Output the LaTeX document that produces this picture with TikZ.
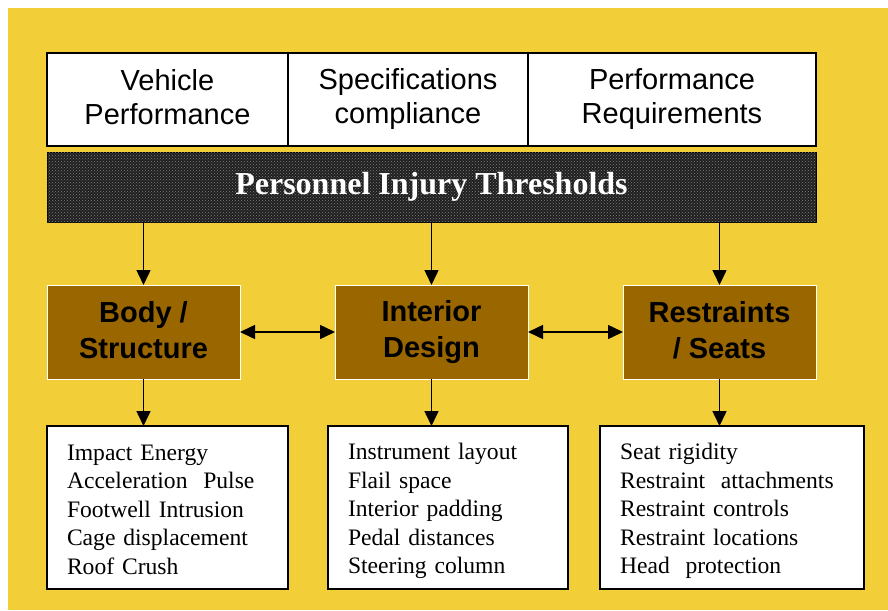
\documentclass[tikz,border=0pt]{standalone}
\usepackage{fontspec}
\setmainfont{Liberation Serif}
\setsansfont{Liberation Sans}
\usetikzlibrary{positioning}
\usetikzlibrary{arrows.meta}
\usetikzlibrary{patterns}
\definecolor{backyellow}{RGB}{242,206,56}
\definecolor{boxbrown}{RGB}{153,102,0}

\begin{document}
\begin{tikzpicture}
		[
			x = 1pt, y = -1pt,
			every node/.style = {outer sep = 0pt, inner sep = 0pt},
			header/.style = {rectangle, draw = black, line width = 1.5pt, fill = white, minimum height = 93pt, align = center, font = \sffamily\fontsize{29}{34}\selectfont, execute at begin node = {\rule{0pt}{26pt}}, execute at end node = {\rule[-5pt]{0pt}{5pt}}},
			banner/.style = {rectangle, draw = black, line width = 1pt, fill = black!88, postaction = {pattern = crosshatch dots, pattern color = black!50}, text = white, font = \bfseries\fontsize{32}{36}\selectfont},
			title/.style = {rectangle, draw = white, line width = 1pt, fill = boxbrown, minimum width = 193pt, minimum height = 94pt, align = center, font = \sffamily\bfseries\fontsize{29}{36}\selectfont, execute at begin node = {\rule{0pt}{27pt}}, execute at end node = {\rule[-5pt]{0pt}{5pt}}},
			list/.style = {rectangle, draw = black, line width = 2pt, fill = white, minimum height = 163pt, inner xsep = 20pt, align = left, font = \fontsize{23.6}{28.5}\selectfont, execute at begin node = {\rule{0pt}{24pt}}, execute at end node = {\rule[-5pt]{0pt}{5pt}}},
			link/.style = {line width = 1.5pt, -{Triangle[length = 15pt, width = 14pt]}},
			twoway/.style = {line width = 1.5pt, {Triangle[length = 15pt, width = 14pt]}-{Triangle[length = 15pt, width = 14pt]}},
		]
			%
			\useasboundingbox (0,0) rectangle (888,610);
			\fill [backyellow] (8,8) rectangle (888,610);
			%
			\node (vehicle) [header, minimum width = 241pt, anchor = north west] at (47,53) {Vehicle\\Performance};
			\node (specs) [header, minimum width = 240pt, right = 0pt of vehicle] {Specifications\\compliance};
			\node (reqs) [header, minimum width = 288pt, right = 0pt of specs] {Performance\\Requirements};
			%
			\node (banner) [banner, minimum width = 769pt, minimum height = 70pt, anchor = north west] at (47,152) {Personnel Injury Thresholds};
			%
			\node (body) [title, anchor = north west] at (47,285) {Body /\\Structure};
			\node (interior) [title, right = 95pt of body] {Interior\\Design};
			\node (seats) [title, right = 95pt of interior] {Restraints\\/ Seats};
			%
			\node (bodylist) [list, text width = 201pt, anchor = north west] at (47,426) {Impact Energy\\Acceleration~ Pulse\\Footwell Intrusion\\Cage displacement\\Roof Crush};
			\node (interiorlist) [list, text width = 200pt, right = 40pt of bodylist] {Instrument layout\\Flail space\\Interior padding\\Pedal distances\\Steering column};
			\node (seatslist) [list, text width = 224pt, right = 32pt of interiorlist] {Seat rigidity\\Restraint~ attachments\\Restraint controls\\Restraint locations\\Head~ protection};
			%
			\draw [link] (banner.south -| body.north) -- (body.north);
			\draw [link] (banner.south -| interior.north) -- (interior.north);
			\draw [link] (banner.south -| seats.north) -- (seats.north);
			%
			\draw [twoway] (body) -- (interior);
			\draw [twoway] (interior) -- (seats);
			%
			\draw [link] (body.south) -- (body.south |- bodylist.north);
			\draw [link] (interior.south) -- (interior.south |- interiorlist.north);
			\draw [link] (seats.south) -- (seats.south |- seatslist.north);
			%
		\end{tikzpicture}
\end{document}
